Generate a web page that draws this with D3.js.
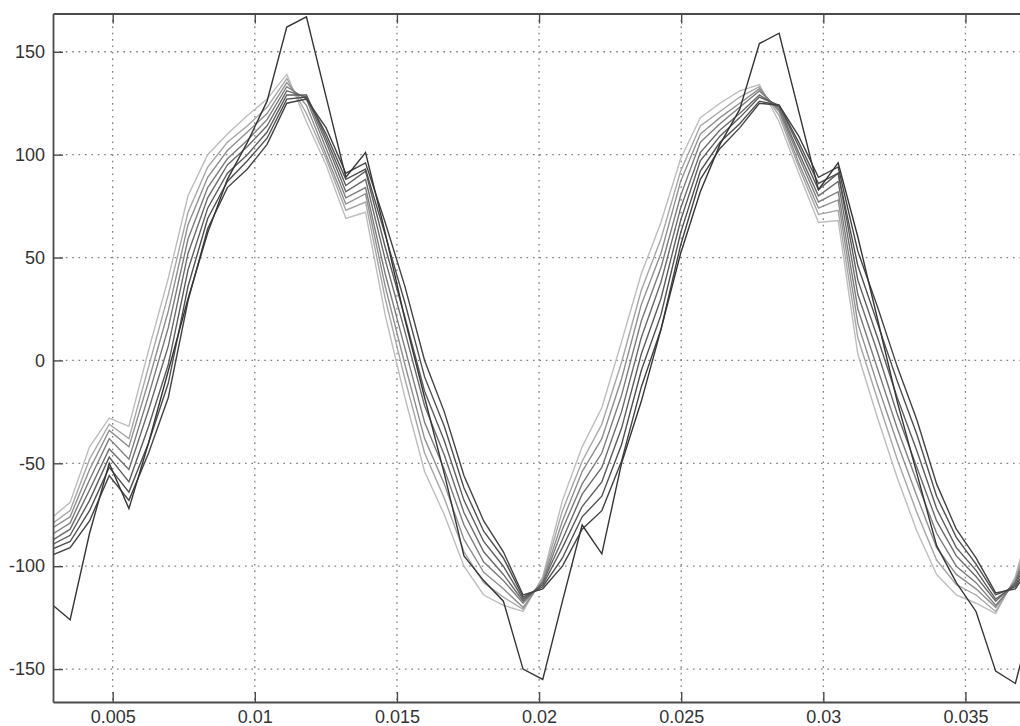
<!DOCTYPE html>
<html>
<head>
<meta charset="utf-8">
<script src="https://cdn.jsdelivr.net/npm/d3@7"></script>
<style>
  body { margin: 0; background: #fff; }
  svg { display: block; }
</style>
</head>
<body>
<div id="chart"></div>
<script>
// sample instants (s)
const times = [0.002810, 0.003503, 0.004186, 0.004878, 0.005571, 0.006264, 0.006957, 0.007650, 0.008342, 0.009035,
  0.009738, 0.010431, 0.011124, 0.011816, 0.012509, 0.013202, 0.013895, 0.014588, 0.015280, 0.015973,
  0.016666, 0.017359, 0.018052, 0.018744, 0.019437, 0.020130, 0.020823, 0.021516, 0.022208, 0.022901,
  0.023594, 0.024287, 0.024980, 0.025672, 0.026365, 0.027058, 0.027751, 0.028444, 0.029136, 0.029829,
  0.030522, 0.031215, 0.031908, 0.032600, 0.033293, 0.033986, 0.034679, 0.035372, 0.036064, 0.036757,
  0.037450];

const xTicks = [0.005, 0.01, 0.015, 0.02, 0.025, 0.03, 0.035];
const xTickLabels = ["0.005", "0.01", "0.015", "0.02", "0.025", "0.03", "0.035"];
const yTicks = [-150, -100, -50, 0, 50, 100, 150];
const yTickLabels = ["-150", "-100", "-50", "0", "50", "100", "150"];

// bundle of traces, earliest (lightest) to latest (darkest)
const trace1 = [-77, -69, -42, -28, -32, 5, 40, 80, 100, 110, 119, 127, 139, 116, 95, 69, 72, 22, -18, -54,
  -75, -100, -114, -119, -122, -105, -68, -42, -23, 9, 42, 67, 98, 118, 125, 131, 134, 116, 91, 67,
  68, 3, -28, -57, -83, -104, -114, -118, -123, -105, -70];
const trace2 = [-80, -73, -48, -31, -38, -3, 32, 72, 94, 106, 114, 123, 137, 120, 98, 73, 77, 30, -9, -45,
  -67, -93, -108, -115, -121, -106, -73, -49, -31, -1, 34, 59, 92, 114, 121, 128, 133, 119, 94, 71,
  73, 11, -19, -48, -74, -97, -109, -114, -122, -106, -75];
const trace3 = [-82, -76, -53, -34, -42, -10, 24, 66, 89, 102, 111, 120, 135, 124, 100, 76, 81, 36, -2, -38,
  -60, -87, -103, -111, -120, -107, -78, -54, -38, -9, 27, 52, 87, 110, 118, 125, 132, 121, 96, 74,
  78, 18, -12, -40, -66, -91, -104, -111, -120, -107, -79];
const trace4 = [-85, -79, -58, -38, -48, -17, 16, 59, 84, 98, 107, 117, 133, 127, 103, 79, 84, 42, 6, -30,
  -53, -80, -98, -107, -118, -108, -82, -60, -45, -17, 19, 45, 80, 106, 115, 123, 131, 122, 99, 77,
  82, 25, -4, -33, -59, -84, -100, -108, -119, -108, -83];
const trace5 = [-88, -82, -63, -43, -53, -24, 7, 52, 79, 95, 104, 114, 131, 128, 106, 82, 88, 49, 14, -22,
  -46, -74, -93, -104, -117, -108, -87, -65, -52, -25, 11, 38, 74, 101, 112, 120, 129, 123, 101, 80,
  87, 32, 4, -26, -52, -78, -95, -105, -117, -108, -86];
const trace6 = [-90, -85, -68, -47, -59, -32, -2, 44, 74, 91, 100, 111, 129, 129, 108, 85, 92, 55, 21, -15,
  -39, -68, -88, -100, -116, -109, -91, -71, -59, -33, 3, 30, 68, 97, 109, 118, 128, 124, 104, 83,
  91, 39, 11, -18, -44, -72, -91, -102, -116, -109, -90];
const trace7 = [-92, -88, -73, -52, -64, -40, -11, 36, 69, 87, 97, 108, 127, 128, 110, 88, 93, 61, 28, -8,
  -32, -62, -83, -96, -115, -110, -96, -76, -66, -41, -5, 22, 62, 92, 106, 115, 126, 124, 106, 86,
  91, 46, 18, -10, -36, -66, -86, -99, -114, -110, -94];
const trace8 = [-95, -91, -78, -56, -68, -45, -18, 29, 64, 84, 93, 105, 125, 127, 113, 91, 96, 67, 36, 0,
  -25, -56, -78, -93, -114, -111, -100, -82, -73, -49, -13, 15, 56, 88, 103, 113, 125, 124, 109, 89,
  94, 53, 26, -3, -29, -60, -82, -96, -113, -111, -97];
// the larger excursion trace
const peakTrace = [-118, -126, -84, -50, -72, -40, -5, 30, 62, 88, 106, 126, 162, 167, 128, 89, 101, 62, 20, -18,
  -55, -95, -107, -117, -150, -155, -117, -80, -94, -50, -20, 15, 52, 82, 105, 122, 154, 159, 121, 83,
  96, 60, 20, -20, -55, -90, -108, -122, -151, -157, -120];

const series = [trace1, trace2, trace3, trace4, trace5, trace6, trace7, trace8, peakTrace];
const strokeColors = ["#bdbdbd", "#a6a6a6", "#8f8f8f", "#7c7c7c", "#6b6b6b", "#5c5c5c", "#4f4f4f", "#434343", "#353535"];

const W = 1020, H = 726;
const mLeft = 53, mTop = 13.5, mBottom = 702, mRight = 1036.5;

const x = d3.scaleLinear().domain([0.0029, 0.0375]).range([mLeft, mRight]);
const y = d3.scaleLinear().domain([-166, 168.6]).range([mBottom, mTop]);

const svg = d3.select("#chart").append("svg")
    .attr("width", W)
    .attr("height", H)
    .attr("font-family", "'Liberation Sans', Arial, sans-serif");

svg.append("rect").attr("width", W).attr("height", H).attr("fill", "#fff");

svg.append("clipPath").attr("id", "plot")
  .append("rect")
    .attr("x", mLeft).attr("y", mTop)
    .attr("width", mRight - mLeft).attr("height", mBottom - mTop);

// dotted grid
const grid = svg.append("g")
    .attr("stroke", "#7e7e7e")
    .attr("stroke-width", 1.3)
    .attr("stroke-dasharray", "1.6,4.8");

grid.selectAll("line.gx")
  .data(xTicks)
  .join("line")
    .attr("class", "gx")
    .attr("x1", d => x(d)).attr("x2", d => x(d))
    .attr("y1", mTop).attr("y2", mBottom);

grid.selectAll("line.gy")
  .data(yTicks)
  .join("line")
    .attr("class", "gy")
    .attr("x1", mLeft).attr("x2", mRight)
    .attr("y1", d => y(d)).attr("y2", d => y(d));

// traces
const line = d3.line()
    .x((d, i) => x(times[i]))
    .y(d => y(d));

svg.append("g")
    .attr("clip-path", "url(#plot)")
    .attr("fill", "none")
    .attr("stroke-width", 1.4)
    .attr("stroke-linejoin", "miter")
  .selectAll("path")
  .data(series)
  .join("path")
    .attr("stroke", (d, i) => strokeColors[i])
    .attr("d", line);

// axes, MATLAB style: ticks pointing inward
const axisColor = "#4a4a4a";

const gBottom = svg.append("g")
    .attr("transform", `translate(0,${mBottom})`)
    .call(d3.axisBottom(x).tickValues(xTicks).tickFormat((d, i) => xTickLabels[i])
      .tickSizeInner(-10).tickSizeOuter(0).tickPadding(8));

const gTop = svg.append("g")
    .attr("transform", `translate(0,${mTop})`)
    .call(d3.axisTop(x).tickValues(xTicks).tickFormat("")
      .tickSizeInner(-10).tickSizeOuter(0));

const gLeft = svg.append("g")
    .attr("transform", `translate(${mLeft},0)`)
    .call(d3.axisLeft(y).tickValues(yTicks).tickFormat((d, i) => yTickLabels[i])
      .tickSizeInner(-10).tickSizeOuter(0).tickPadding(8));

const gRight = svg.append("g")
    .attr("transform", `translate(${mRight},0)`)
    .call(d3.axisRight(y).tickValues(yTicks).tickFormat("")
      .tickSizeInner(-10).tickSizeOuter(0));

[gBottom, gTop, gLeft, gRight].forEach(g => {
  g.select(".domain").attr("stroke", axisColor).attr("stroke-width", 1.8);
  g.selectAll(".tick line").attr("stroke", axisColor).attr("stroke-width", 1.4);
  g.selectAll(".tick text")
    .attr("fill", "#333")
    .attr("font-size", 18)
    .attr("font-family", "'Liberation Sans', Arial, sans-serif");
});
</script>
</body>
</html>
